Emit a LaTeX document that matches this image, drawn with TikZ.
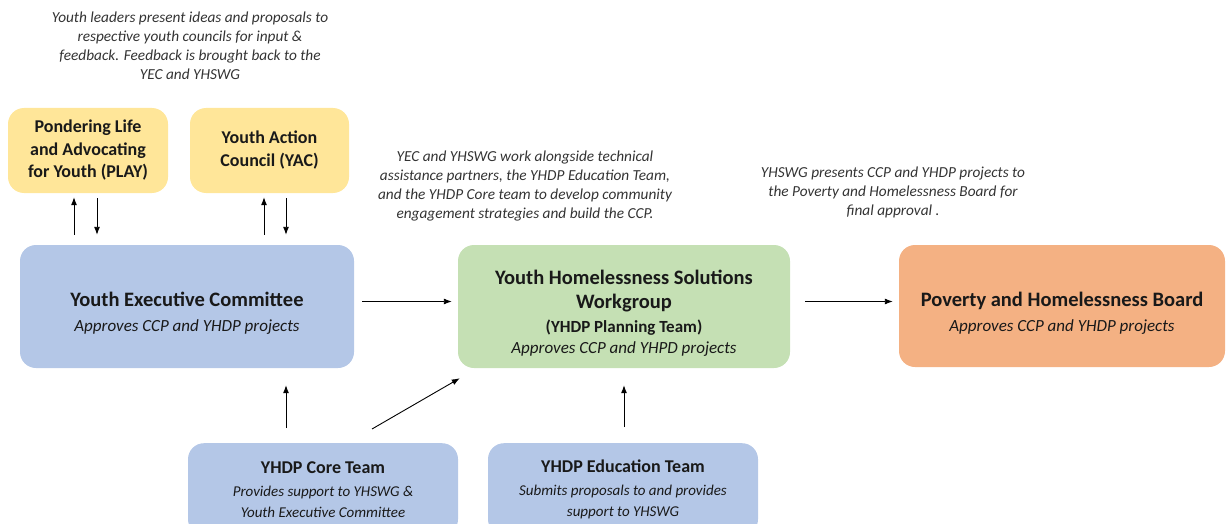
\documentclass[tikz,border=0pt]{standalone}
\usepackage{fontspec}
\setmainfont{Carlito}
\usetikzlibrary{shapes,arrows.meta}
\definecolor{councilyellow}{HTML}{FFE699}
\definecolor{teamblue}{HTML}{B4C7E7}
\definecolor{workgreen}{HTML}{C5E0B4}
\definecolor{boardorange}{HTML}{F4B183}
\newcommand{\titlefont}{\fontsize{20.5}{25}\bfseries\selectfont}
\newcommand{\subfont}{\fontsize{17}{25}\itshape\selectfont}
\newcommand{\lowertext}{\mbox{}\\[3pt]}

\begin{document}
\begin{tikzpicture}[x=1pt,y=-1pt,
    box/.style={rectangle,rounded corners=16pt,inner sep=0pt,align=center,text=black!90,font=\fontsize{17}{25}\selectfont},
    team/.style={box,fill=teamblue,minimum width=270pt,minimum height=92pt,anchor=north,font=\fontsize{15}{23}\selectfont},
    note/.style={align=center,text=black!80,font=\fontsize{15.3}{19}\itshape\selectfont},
    arr/.style={-{Latex[length=8pt,width=6pt]},line width=0.9pt}]
        \useasboundingbox (0,0) rectangle (1228,524);
        % Youth councils
        \node[box,fill=councilyellow,minimum width=160pt,minimum height=85pt,font=\fontsize{18}{22.5}\bfseries\selectfont] (PLAY) at (88,150.5) {Pondering Life\\and Advocating\\for Youth (PLAY)};
        \node[box,fill=councilyellow,minimum width=159pt,minimum height=85pt,font=\fontsize{18}{23}\bfseries\selectfont] (YAC) at (269.5,150.5) {Youth Action\\Council (YAC)};
        % Main row
        \node[box,fill=teamblue,minimum width=334pt,minimum height=123pt] (YEC) at (187,306.5) {\lowertext{\titlefont Youth Executive Committee}\\{\subfont Approves CCP and YHDP projects}};
        \node[box,fill=workgreen,minimum width=332pt,minimum height=123pt,font=\fontsize{17}{24}\selectfont] (YHSWG) at (624,306.5) {\lowertext{\titlefont Youth Homelessness Solutions}\\{\titlefont Workgroup}\\{\bfseries (YHDP Planning Team)}\\[-3pt]{\subfont Approves CCP and YHPD projects}};
        \node[box,fill=boardorange,minimum width=326pt,minimum height=122pt] (PHB) at (1062,306) {\lowertext{\titlefont Poverty and Homelessness Board}\\{\subfont Approves CCP and YHDP projects}};
        % Support teams
        \node[team] (CORE) at (323,443) {{\fontsize{18}{23}\bfseries\selectfont YHDP Core Team}\\{\itshape Provides support to YHSWG \&}\\[-2pt]{\itshape Youth Executive Committee}};
        \node[team] (EDU) at (623,443) {{\fontsize{18}{23}\bfseries\selectfont YHDP Education Team}\\{\itshape Submits proposals to and provides}\\[-2pt]{\itshape support to YHSWG}};
        % Notes
        \node[note] (N1) at (190,46) {Youth leaders present ideas and proposals to\\respective youth councils for input \&\\feedback. Feedback is brought back to the\\YEC and YHSWG};
        \node[note] (N2) at (525,186) {YEC and YHSWG work alongside technical\\assistance partners, the YHDP Education Team,\\and the YHDP Core team to develop community\\engagement strategies and build the CCP.};
        \node[note] (N3) at (893,192) {YHSWG presents CCP and YHDP projects to\\the Poverty and Homelessness Board for\\final approval .};
        % Arrows between councils and YEC
        \foreach \n/\up/\dn in {PLAY/-14/9,YAC/-5.5/16.5} {
            \draw[arr,shorten <=10pt,shorten >=4pt] ([xshift=\up pt]\n.south |- YEC.north) -- ([xshift=\up pt]\n.south);
            \draw[arr,shorten <=5pt,shorten >=10pt] ([xshift=\dn pt]\n.south) -- ([xshift=\dn pt]\n.south |- YEC.north);
        }
        % Main row arrows
        \draw[arr,shorten <=8pt,shorten >=6pt] ([yshift=5pt]YEC.east) -- ([yshift=5pt]YEC.east -| YHSWG.west);
        \draw[arr,shorten <=15pt,shorten >=6pt] ([yshift=5pt]YHSWG.east) -- ([yshift=5pt]YHSWG.east -| PHB.west);
        % Support arrows
        \draw[arr,shorten <=15pt,shorten >=17pt] ([xshift=-37pt]CORE.north) -- ([xshift=-37pt]CORE.north |- YEC.south);
        \draw[arr] ([shift={(49,-14)}]CORE.north) -- ([shift={(2,10)}]YHSWG.south west);
        \draw[arr,shorten <=16pt,shorten >=17pt] ([xshift=1pt]EDU.north) -- ([xshift=1pt]EDU.north |- YHSWG.south);
\end{tikzpicture}
\end{document}
